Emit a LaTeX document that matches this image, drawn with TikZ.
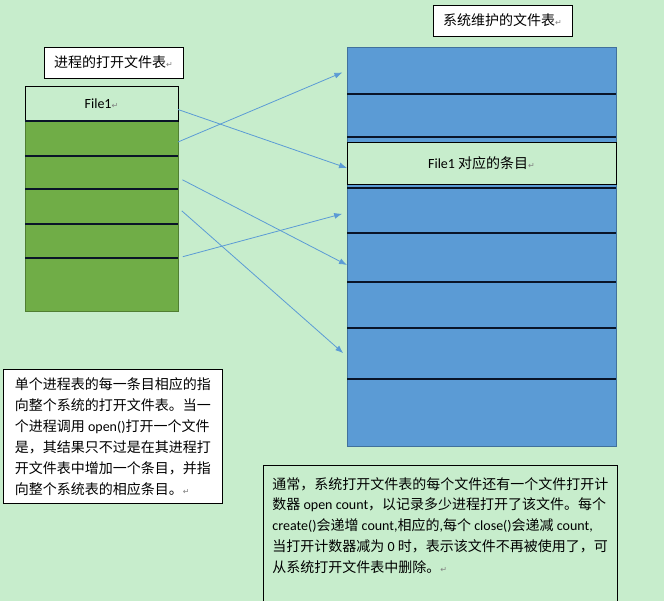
\documentclass[tikz,border=0pt]{standalone}
\usepackage{fontspec}
\setmainfont{Noto Sans CJK SC}
\newfontfamily\lat{Carlito}
\newfontfamily\symfont{DejaVu Sans}
\usetikzlibrary{arrows.meta}

\definecolor{eyegreen}{RGB}{199,237,204}
\definecolor{tabgreen}{RGB}{112,173,71}
\definecolor{tabgreenline}{RGB}{80,126,50}
\definecolor{tabblue}{RGB}{91,155,213}
\definecolor{tabblueline}{RGB}{65,113,156}
\definecolor{rowline}{RGB}{10,20,40}
\newcommand\pmark{{\symfont\color{gray}\fontsize{8}{8}\selectfont ↵}}

\tikzset{
  tablabel/.style={draw, fill=white, line width=0.8pt, minimum width=139pt, minimum height=31pt,
    inner sep=0pt, font=\fontsize{14}{16}\selectfont},
  tabrow/.style={inner sep=0pt, outer sep=0pt},
  filerow/.style={draw=black, fill=eyegreen, line width=0.8pt, inner sep=0pt, outer sep=0pt,
    font=\fontsize{14}{16}\selectfont},
  rline/.style={rowline, line width=1.8pt},
  link/.style={tabblue, line width=0.8pt, -{Latex[length=8pt,width=6pt]}},
  note/.style={draw, line width=0.8pt, align=left, inner sep=0pt, font=\fontsize{14}{21}\selectfont}
}

\begin{document}
\begin{tikzpicture}[x=1pt, y=-1pt]
  \fill[eyegreen] (0,0) rectangle (664,601);
  \useasboundingbox (0,0) rectangle (664,601);

  % process table
  \node[tablabel] (ltitle) at (113.5,62.5) {进程的打开文件表\pmark};
  \node[draw=tabgreenline, fill=tabgreen, minimum width=153pt, minimum height=225pt, inner sep=0pt] (ltab) at (101.5,198.5) {};
  \foreach \n/\t/\b in {lr1/121/156, lr2/156/189, lr3/189/224, lr4/224/258, lr5/258/311}{
    \node[tabrow, minimum width=153pt, minimum height={(\b-\t)*1pt}] (\n) at (101.5,{(\t+\b)/2}) {};
  }
  \node[filerow, minimum width=153pt, minimum height=35pt] (lfile) at (101.5,103.5) {{\lat File1}\pmark};
  \foreach \n in {lr1,lr2,lr3,lr4,lr5}{
    \draw[rline] (\n.north west) -- (\n.north east);
  }

  % system table
  \node[tablabel] (rtitle) at (502.5,20.5) {系统维护的文件表\pmark};
  \node[draw=tabblueline, fill=tabblue, minimum width=269pt, minimum height=399pt, inner sep=0pt] (rtab) at (481.5,246.5) {};
  \foreach \n/\t/\b in {rr1/47/94, rr2/94/137, rr3/188/233, rr4/233/282, rr5/282/328, rr6/328/379, rr7/379/446}{
    \node[tabrow, minimum width=269pt, minimum height={(\b-\t)*1pt}] (\n) at (481.5,{(\t+\b)/2}) {};
  }
  \foreach \n in {rr2,rr3,rr4,rr5,rr6,rr7}{
    \draw[rline] (\n.north west) -- (\n.north east);
  }
  \draw[rline] (rr2.south west) -- (rr2.south east);
  \node[filerow, minimum width=269pt, minimum height=42pt] (rfile) at (481.5,163) {{\lat File1} 对应的条目\pmark};

  % links
  \draw[link] ([yshift=-6pt]lfile.east) -- ([yshift=-5pt]rfile.west);
  \draw[link, shorten >=5pt] ([yshift=-3.5pt]lr1.east) -- (rr1.west);
  \draw[link, shorten <=5pt] ([yshift=-5pt]lr2.east) -- ([yshift=-7.5pt]rr4.west);
  \draw[link, shorten <=5pt, shorten >=5pt] ([yshift=-1pt]lr3.east) -- ([yshift=-3pt]rr6.west);
  \draw[link, shorten <=5pt, shorten >=5pt] (lr4.south east) -- ([yshift=-2pt]rr3.west);

  % notes
  \node[note, fill=white, minimum width=219pt, minimum height=134pt, anchor=north west] (pnote) at (3,369)
    {单个进程表的每一条目相应的指\\
     向整个系统的打开文件表。当一\\
     个进程调用 {\lat open()}打开一个文件\\
     是，其结果只不过是在其进程打\\
     开文件表中增加一个条目，并指\\
     向整个系统表的相应条目。\pmark};
  \node[note, minimum width=354pt, inner ysep=12pt, font=\fontsize{14}{20.7}\selectfont, anchor=north west] (cnote) at (263,465)
    {通常，系统打开文件表的每个文件还有一个文件打开计\\
     数器 {\lat open count}，以记录多少进程打开了该文件。每个\\
     {\lat create()}会递增 {\lat count,}相应的{\lat ,}每个 {\lat close()}会递减 {\lat count,}\\
     当打开计数器减为 {\lat 0} 时，表示该文件不再被使用了，可\\
     从系统打开文件表中删除。\pmark\\[20pt]\mbox{}};
\end{tikzpicture}
\end{document}
